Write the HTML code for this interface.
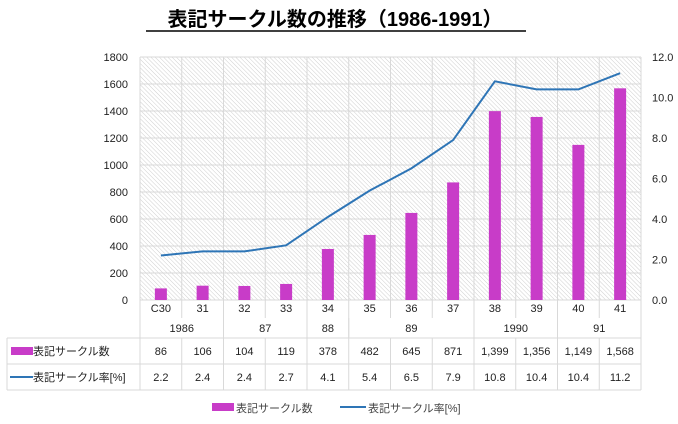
<!DOCTYPE html>
<html><head><meta charset="utf-8"><style>
body{margin:0;background:#fff;}
svg text{font-family:"Liberation Sans","Noto Sans CJK JP",sans-serif;}
</style></head><body>
<svg width="678" height="419" viewBox="0 0 678 419">
<defs>
<pattern id="hatch" width="3" height="3" patternUnits="userSpaceOnUse" patternTransform="rotate(-45)">
<rect width="3" height="3" fill="#fff"/><line x1="0" y1="0" x2="0" y2="3" stroke="#cfcfcf" stroke-width="1"/>
</pattern>
</defs>
<text x="335" y="26" text-anchor="middle" font-size="20" font-weight="bold">表記サークル数の推移（1986-1991）</text>
<line x1="146" y1="31" x2="526" y2="31" stroke="#000" stroke-width="1.5"/>
<rect x="140" y="57" width="501" height="243" fill="url(#hatch)"/>
<g id="grid"></g>
<g id="bars"></g>
<g id="line"></g>
<g id="axes"></g>
<g id="table"></g>
<g>
<rect x="212" y="403" width="22" height="8" fill="#c83cc8"/>
<text x="236" y="412" font-size="11" fill="#444">表記サークル数</text>
<line x1="340" y1="407" x2="366" y2="407" stroke="#2e75b6" stroke-width="2"/>
<text x="368" y="412" font-size="11" fill="#444">表記サークル率[%]</text>
</g>
</svg>
<script>
const categories=["C30","31","32","33","34","35","36","37","38","39","40","41"];
const counts=[86,106,104,119,378,482,645,871,1399,1356,1149,1568];
const rates=[2.2,2.4,2.4,2.7,4.1,5.4,6.5,7.9,10.8,10.4,10.4,11.2];
const countLabels=["86","106","104","119","378","482","645","871","1,399","1,356","1,149","1,568"];
const leftTicks=[0,200,400,600,800,1000,1200,1400,1600,1800];
const rightTicks=["0.0","2.0","4.0","6.0","8.0","10.0","12.0"];
const years=[["1986",0,2],["87",2,4],["88",4,5],["89",5,8],["1990",8,10],["91",10,12]];
const NS="http://www.w3.org/2000/svg";
const X0=140,X1=641,Y0=300,Y1=57,cw=(X1-X0)/categories.length;
const xc=i=>X0+cw*(i+0.5);
const yL=v=>Y0-(v/1800)*(Y0-Y1);
const yR=v=>Y0-(v/12)*(Y0-Y1);
function mk(tag,attrs,parent,txt){const e=document.createElementNS(NS,tag);for(const k in attrs)e.setAttribute(k,attrs[k]);if(txt!==undefined)e.textContent=txt;document.getElementById(parent).appendChild(e);return e;}
leftTicks.forEach((t,i)=>{
 const g=mk('line',{x1:X0,x2:X1,y1:yL(t),y2:yL(t),stroke:'#d9d9d9'},'grid');
 
 
 const l=mk('text',{x:128,y:yL(t)+4,'text-anchor':'end','font-size':'11',fill:'#222'},'axes',String(t));
 
 
});
rightTicks.forEach((t,i)=>{
 const l=mk('text',{x:652,y:yR(i*2)+4,'font-size':'11',fill:'#222'},'axes',t);
 
 
});
for(let i=0;i<=categories.length;i++){
 const x=X0+cw*i;
 const g=mk('line',{x1:x,x2:x,y1:Y1,y2:Y0,stroke:'#d9d9d9'},'grid');
 
 
}
counts.forEach((v,i)=>{
 const b=mk('rect',{x:xc(i)-6,y:yL(v),width:12,height:Y0-yL(v),fill:'#c83cc8'},'bars');
 
 
});
const pl=mk('polyline',{points:rates.map((v,i)=>xc(i)+','+yR(v)).join(' '),fill:'none',stroke:'#2e75b6','stroke-width':'2'},'line');


const tl=(x1,y1,x2,y2)=>{const e=mk('line',{x1,y1,x2,y2,stroke:'#d9d9d9'},'table');};
for(let i=0;i<=categories.length;i++){tl(X0+cw*i,Y0,X0+cw*i,318);}
years.forEach(y=>{tl(X0+cw*y[1],318,X0+cw*y[1],338);tl(X0+cw*y[2],318,X0+cw*y[2],338);});
tl(7,338,X1,338);tl(7,364,X1,364);tl(7,390,X1,390);tl(7,338,7,390);
for(let i=0;i<=categories.length;i++){tl(X0+cw*i,338,X0+cw*i,390);}
categories.forEach((c,i)=>{
 const t=mk('text',{x:xc(i),y:312,'text-anchor':'middle','font-size':'11',fill:'#222'},'table',c);
 
 
 const a=mk('text',{x:xc(i),y:355,'text-anchor':'middle','font-size':'11',fill:'#222'},'table',countLabels[i]);
 
 
 const r=mk('text',{x:xc(i),y:381,'text-anchor':'middle','font-size':'11',fill:'#222'},'table',rates[i].toFixed(1));
 
 
});
years.forEach(y=>{
 const t=mk('text',{x:X0+cw*(y[1]+y[2])/2,y:332,'text-anchor':'middle','font-size':'11',fill:'#222'},'table',y[0]);
 
 
});
const s1=mk('rect',{x:11,y:347,width:22,height:8,fill:'#c83cc8'},'table');


const h1=mk('text',{x:33,y:355,'font-size':'11',fill:'#222'},'table','表記サークル数');


const s2=mk('line',{x1:10,y1:377,x2:33,y2:377,stroke:'#2e75b6','stroke-width':'2'},'table');


const h2=mk('text',{x:33,y:381,'font-size':'11',fill:'#222'},'table','表記サークル率[%]');


</script>
</body></html>
